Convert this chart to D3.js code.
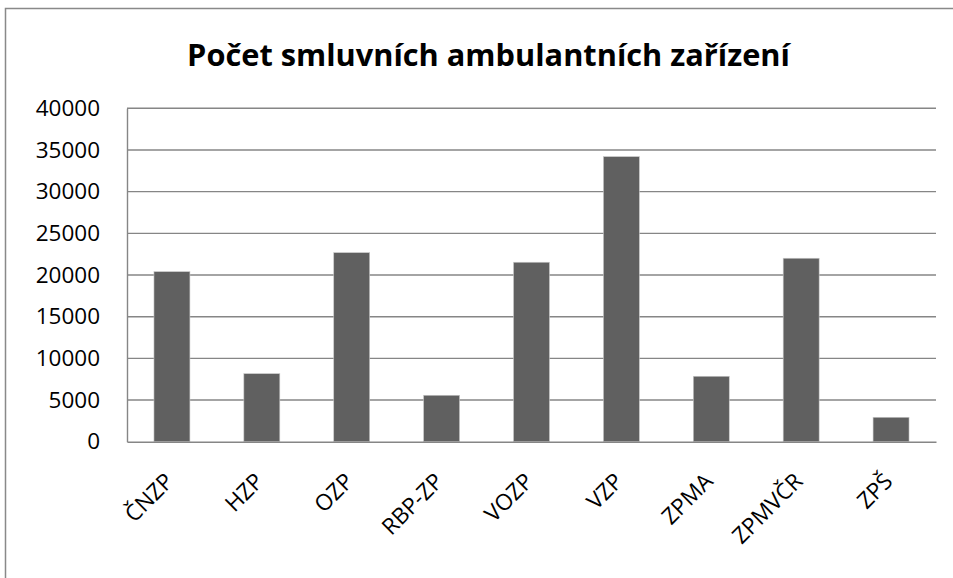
<!DOCTYPE html>
<html>
<head>
<meta charset="utf-8">
<script src="https://cdn.jsdelivr.net/npm/d3@7"></script>
<style>
  body { margin: 0; background: #fff; }
  text { font-family: "Open Sans", sans-serif; fill: #000; }
</style>
</head>
<body>
<svg id="chart"></svg>
<script>
// data
const categories = ['ČNZP', 'HZP', 'OZP', 'RBP-ZP', 'VOZP', 'VZP', 'ZPMA', 'ZPMVČR', 'ZPŠ'];
const values = [20400, 8160, 22680, 5570, 21530, 34200, 7850, 22010, 2930];
const yTicks = [0, 5000, 10000, 15000, 20000, 25000, 30000, 35000, 40000];
const title = 'Počet smluvních ambulantních zařízení';

// set up constants
const width = 953;
const height = 578;
const margin = { top: 108.3, right: 17, bottom: 136.3, left: 127 };
const innerWidth = width - margin.left - margin.right;
const innerHeight = height - margin.top - margin.bottom;

const svg = d3.select('#chart')
  .attr('width', width)
  .attr('height', height);

// outer chart border (runs past the right and bottom edge)
svg.append('rect')
  .attr('x', 5.5)
  .attr('y', 8.5)
  .attr('width', 1000)
  .attr('height', 700)
  .attr('fill', 'none')
  .attr('stroke', '#898989')
  .attr('stroke-width', 1.5);

// title
const titleText = svg.append('text')
  .attr('x', 488.5)
  .attr('y', 66)
  .attr('text-anchor', 'middle')
  .style('font-weight', 'bold')
  .style('font-size', '30px')
  .text(title);
// fit title to width of original
const tw = titleText.node().getComputedTextLength();
titleText.style('font-size', `${30 * 603 / tw}px`);

const g = svg.append('g')
  .attr('transform', `translate(${margin.left}, ${margin.top})`);

// scales
const xScale = d3.scaleBand()
  .domain(categories)
  .range([0, innerWidth])
  .paddingInner(0.6)
  .paddingOuter(0.3);

const yScale = d3.scaleLinear()
  .domain([0, 40000])
  .range([innerHeight, 0]);

// gridlines
g.selectAll('.grid')
  .data(yTicks.filter(d => d > 0))
  .enter()
  .append('line')
  .attr('class', 'grid')
  .attr('x1', 0)
  .attr('x2', innerWidth)
  .attr('y1', d => yScale(d))
  .attr('y2', d => yScale(d))
  .attr('stroke', '#868686')
  .attr('stroke-width', 1.4);

// bars
g.selectAll('rect.bar')
  .data(values)
  .enter()
  .append('rect')
  .attr('class', 'bar')
  .attr('x', (d, i) => xScale(categories[i]))
  .attr('y', d => yScale(d))
  .attr('width', xScale.bandwidth())
  .attr('height', d => innerHeight - yScale(d))
  .attr('fill', '#606060')
  .attr('stroke', '#c8c8c8')
  .attr('stroke-width', 0.6);

// y axis
const yAxis = g.append('g')
  .call(d3.axisLeft(yScale).tickValues(yTicks).tickSize(0).tickSizeOuter(0).tickPadding(27).tickFormat(d => d));
yAxis.select('.domain').attr('stroke', '#868686').attr('stroke-width', 1.4);
yAxis.selectAll('text')
  .style('font-size', '22.5px')
  .attr('fill', '#000');

// x axis
const xAxis = g.append('g')
  .attr('transform', `translate(0, ${innerHeight})`)
  .call(d3.axisBottom(xScale).tickSize(0).tickSizeOuter(0));
xAxis.select('.domain').attr('stroke', '#868686').attr('stroke-width', 1.4);
xAxis.selectAll('text')
  .style('font-size', '22.5px')
  .attr('fill', '#000')
  .attr('text-anchor', 'end')
  .attr('dy', null)
  .attr('y', 0)
  .attr('transform', 'translate(3, 41) rotate(-45)');
</script>
</body>
</html>
